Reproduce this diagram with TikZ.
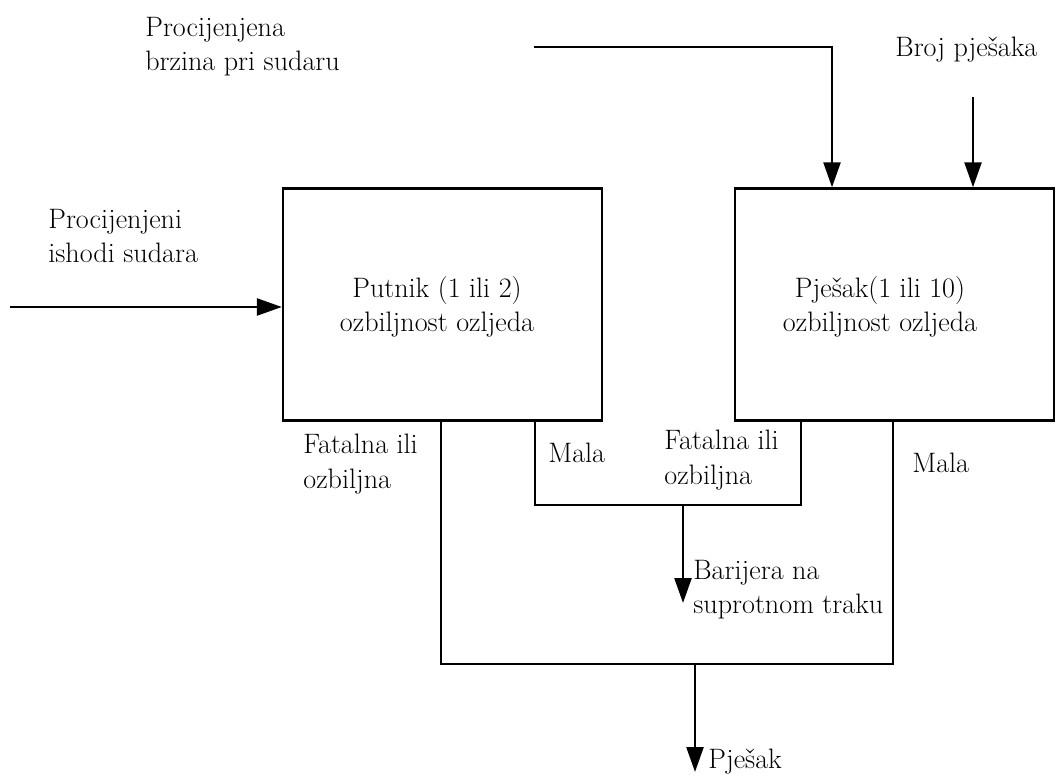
\documentclass[tikz,border=0pt]{standalone}
\usetikzlibrary{arrows.meta}
\begin{document}
\begin{tikzpicture}[x=0.02cm,y=-0.02cm,
  line/.style={line width=1.4pt},
  arr/.style={line width=1.4pt,-{Triangle[length=0.5cm,width=0.34cm]}},
  boxnode/.style={draw,line width=1.4pt,minimum width=6.38cm,minimum height=4.64cm,inner sep=0pt,align=center,font=\fontsize{16}{19}\selectfont},
  lbl/.style={anchor=west,inner sep=0pt,align=left,font=\fontsize{16}{19.5}\selectfont}]
\useasboundingbox (0,0) rectangle (1060,776);
% boxes
\node[boxnode] (A) at (442.5,304.5) {};
\node[boxnode] (B) at (894.5,304.5) {};
\node[inner sep=0pt,align=center,font=\fontsize{16}{19.5}\selectfont] (At) at (437,307) {Putnik (1 ili 2)\\ozbiljnost ozljeda};
\node[inner sep=0pt,align=center,font=\fontsize{16}{19.5}\selectfont] (Bt) at (880,307) {Pje\v{s}ak(1 ili 10)\\ozbiljnost ozljeda};
% input labels
\node[lbl] (l1) at (48,236) {Procijenjeni\\ishodi sudara};
\node[lbl] (l2) at (145,47) {Procijenjena\\brzina pri sudaru};
\node[lbl] (l3) at (895,50) {Broj pje\v{s}aka};
% input arrows
\coordinate (s1) at (10,307);
\draw[arr] (s1) -- (A.west |- s1);
\coordinate (s2) at (534,47);
\coordinate (c2) at (832,47);
\draw[arr] (s2) -- (c2) -- (c2 |- B.north);
\coordinate (s3) at (973,97);
\draw[arr] (s3) -- (s3 |- B.north);
% outputs
\coordinate (a1) at (441,421);
\coordinate (a2) at (535,421);
\coordinate (b1) at (801,421);
\coordinate (b2) at (893,421);
\coordinate (m1) at (535,505);
\coordinate (m2) at (801,505);
\coordinate (mo) at (683,505);
\coordinate (me) at (683,603);
\coordinate (n1) at (441,664);
\coordinate (n2) at (893,664);
\coordinate (no) at (695,664);
\coordinate (ne) at (695,772);
\draw[line] (a2) -- (m1) -- (m2) -- (b1);
\draw[line] (a1) -- (n1) -- (n2) -- (b2);
\draw[arr] (mo) -- (me);
\draw[arr] (no) -- (ne);
% output labels
\node[lbl] (o1) at (303,464) {Fatalna ili\\ozbiljna};
\node[lbl] (o2) at (548,453) {Mala};
\node[lbl] (o3) at (664,460) {Fatalna ili\\ozbiljna};
\node[lbl] (o4) at (912,463) {Mala};
\node[lbl] (o5) at (693,590) {Barijera na\\suprotnom traku};
\node[lbl] (o6) at (708,762) {Pje\v{s}ak};
\end{tikzpicture}
\end{document}
